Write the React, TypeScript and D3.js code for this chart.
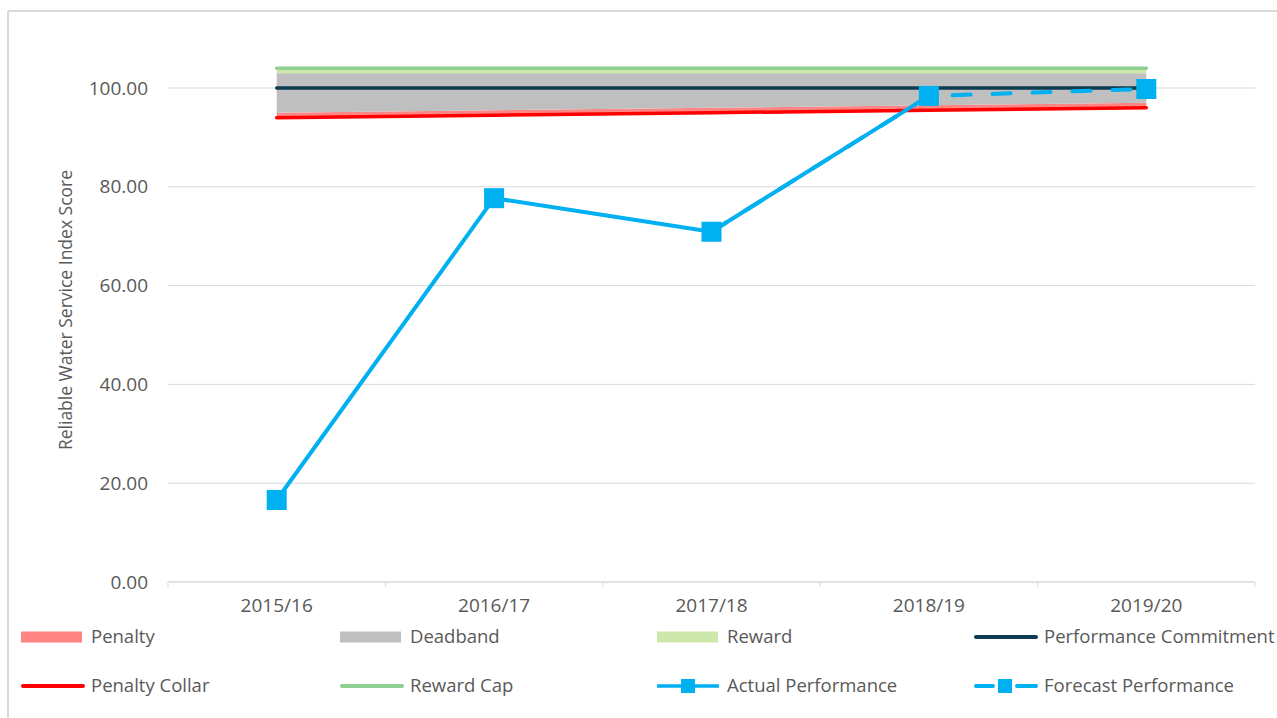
import React from "react";
import * as d3 from "d3";

const categories = ["2015/16", "2016/17", "2017/18", "2018/19", "2019/20"];
const penaltyCollar = [94, 94.5, 95, 95.5, 96];
const penaltyDeadband = [95, 95.5, 96, 96.5, 97];
const rewardDeadband = [103, 103, 103, 103, 103];
const rewardCap = [104, 104, 104, 104, 104];
const performanceCommitment = [100, 100, 100, 100, 100];
const actualPerformance: (number | null)[] = [16.6, 77.7, 70.9, 98.4, null];
const forecastPerformance: (number | null)[] = [null, null, 70.9, 98.4, 99.8];
const yTicks = [0, 20, 40, 60, 80, 100];
const yTitle = "Reliable Water Service Index Score";

const W = 1277;
const H = 718;
const FONT = "'Open Sans', 'Noto Sans', sans-serif";
const TXT = "#595959";
const GRID = "#d9d9d9";
const BLUE = "#00b0f0";

export default function App() {
  const x = d3.scaleBand<string>().domain(categories).range([168, 1255]);
  const cx = (c: string) => (x(c) as number) + x.bandwidth() / 2;
  const y = d3.scaleLinear().domain([0, 110]).range([582, 38.6]);

  const band = (lo: number[], hi: number[]) =>
    d3
      .area<number>()
      .x((_, i) => cx(categories[i]))
      .y0((_, i) => y(lo[i]))
      .y1((_, i) => y(hi[i]))(lo.map((_, i) => i)) as string;

  const line = (vals: (number | null)[]) =>
    d3
      .line<number>()
      .defined((i) => vals[i] !== null)
      .x((i) => cx(categories[i]))
      .y((i) => y(vals[i] as number))(vals.map((_, i) => i)) as string;

  const boundaries = [...categories.map((c) => x(c) as number), 1255];

  const legendItems = [
    { label: "Penalty", kind: "rect", color: "#ff8585", col: 0, row: 0 },
    { label: "Deadband", kind: "rect", color: "#bfbfbf", col: 1, row: 0 },
    { label: "Reward", kind: "rect", color: "#cde8aa", col: 2, row: 0 },
    { label: "Performance Commitment", kind: "line", color: "#0d3b4f", col: 3, row: 0 },
    { label: "Penalty Collar", kind: "line", color: "#ff0000", col: 0, row: 1 },
    { label: "Reward Cap", kind: "line", color: "#8fcf8f", col: 1, row: 1 },
    { label: "Actual Performance", kind: "marker", color: BLUE, col: 2, row: 1 },
    { label: "Forecast Performance", kind: "dashmarker", color: BLUE, col: 3, row: 1 },
  ];
  const colX = [21, 340, 657, 974];
  const rowY = [637, 686];
  const SW = 62;

  return (
    <svg
      width={W}
      height={H}
      style={{ position: "absolute", left: 0, top: 0, background: "#fff" }}
      fontFamily={FONT}
    >
      <rect x={0} y={0} width={W} height={H} fill="#fff" />
      {/* frame */}
      <line x1={8} x2={W} y1={11} y2={11} stroke={GRID} strokeWidth={2} />
      <line x1={8} x2={8} y1={11} y2={H} stroke={GRID} strokeWidth={2} />

      {/* gridlines */}
      {yTicks.slice(1).map((t) => (
        <line key={t} x1={168} x2={1255} y1={y(t)} y2={y(t)} stroke={GRID} strokeWidth={1} />
      ))}
      {/* x axis */}
      <line x1={168} x2={1255} y1={y(0)} y2={y(0)} stroke={GRID} strokeWidth={1.3} />
      {boundaries.map((b, i) => (
        <line key={i} x1={b} x2={b} y1={y(0)} y2={y(0) + 5} stroke={GRID} strokeWidth={1} />
      ))}

      {/* y tick labels */}
      {yTicks.map((t) => (
        <text
          key={t}
          x={148}
          y={y(t)}
          dy="0.35em"
          textAnchor="end"
          fontSize={19}
          fill={TXT}
        >
          {t.toFixed(2)}
        </text>
      ))}
      {/* x labels */}
      {categories.map((c) => (
        <text key={c} x={cx(c)} y={612} textAnchor="middle" fontSize={19} fill={TXT}>
          {c}
        </text>
      ))}
      {/* y title */}
      <text
        transform={`translate(72,${310}) rotate(-90)`}
        textAnchor="middle"
        fontSize={17.5}
        fill={TXT}
      >
        {yTitle}
      </text>

      {/* bands */}
      <path d={band(penaltyCollar, penaltyDeadband)} fill="#ff8585" />
      <path d={band(penaltyDeadband, rewardDeadband)} fill="#bfbfbf" />
      <path d={band(rewardDeadband, rewardCap)} fill="#cde8aa" />

      {/* threshold lines */}
      <path d={line(performanceCommitment)} fill="none" stroke="#0d3b4f" strokeWidth={3.5} strokeLinecap="round" />
      <path d={line(penaltyCollar)} fill="none" stroke="#ff0000" strokeWidth={3.5} strokeLinecap="round" />
      <path d={line(rewardCap)} fill="none" stroke="#8fcf8f" strokeWidth={3.5} strokeLinecap="round" />

      {/* actual */}
      <path d={line(actualPerformance)} fill="none" stroke={BLUE} strokeWidth={4} strokeLinejoin="round" />
      {/* forecast */}
      <path
        d={line(forecastPerformance)}
        fill="none"
        stroke={BLUE}
        strokeWidth={4}
        strokeDasharray="18 22"
        strokeLinecap="round"
      />
      {actualPerformance.map((v, i) =>
        v === null ? null : (
          <rect key={"a" + i} x={cx(categories[i]) - 10} y={y(v) - 10} width={20} height={20} fill={BLUE} />
        )
      )}
      {forecastPerformance.map((v, i) =>
        v === null || actualPerformance[i] !== null ? null : (
          <rect key={"f" + i} x={cx(categories[i]) - 10} y={y(v) - 10} width={20} height={20} fill={BLUE} />
        )
      )}

      {/* legend */}
      {legendItems.map((it) => {
        const x0 = colX[it.col];
        const yc = rowY[it.row];
        let sym: React.ReactNode = null;
        if (it.kind === "rect") {
          sym = <rect x={x0} y={yc - 5.5} width={SW - 1} height={11} fill={it.color} />;
        } else if (it.kind === "line") {
          sym = <line x1={x0 + 2} x2={x0 + SW} y1={yc} y2={yc} stroke={it.color} strokeWidth={4} strokeLinecap="round" />;
        } else if (it.kind === "marker") {
          sym = (
            <g>
              <line x1={x0} x2={x0 + SW} y1={yc} y2={yc} stroke={it.color} strokeWidth={3.5} />
              <rect x={x0 + SW / 2 - 7} y={yc - 7} width={14} height={14} fill={it.color} />
            </g>
          );
        } else {
          sym = (
            <g>
              <line x1={x0 + 2} x2={x0 + 19} y1={yc} y2={yc} stroke={it.color} strokeWidth={4} strokeLinecap="round" />
              <line x1={x0 + SW - 19} x2={x0 + SW} y1={yc} y2={yc} stroke={it.color} strokeWidth={4} strokeLinecap="round" />
              <rect x={x0 + SW / 2 - 7} y={yc - 7} width={14} height={14} fill={it.color} />
            </g>
          );
        }
        return (
          <g key={it.label}>
            {sym}
            <text x={x0 + 70} y={yc} dy="0.35em" fontSize={18.5} fill={TXT}>
              {it.label}
            </text>
          </g>
        );
      })}
    </svg>
  );
}
